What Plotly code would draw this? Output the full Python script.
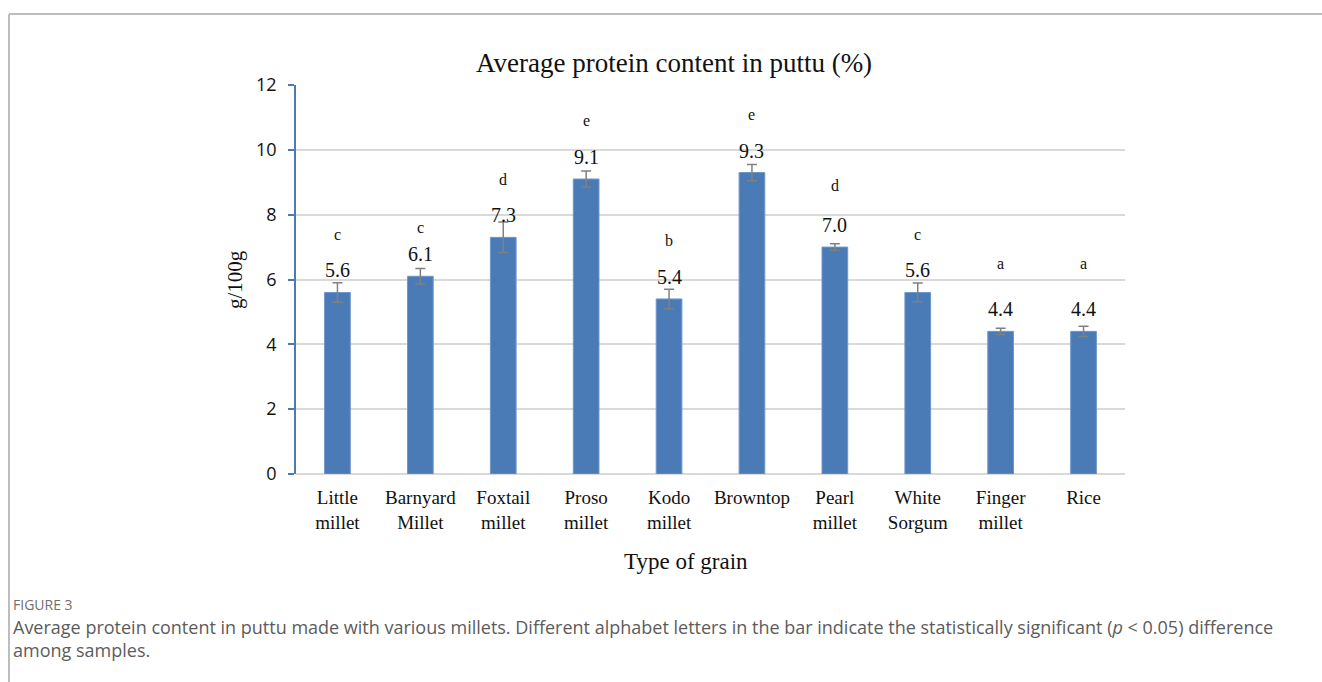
import plotly.graph_objects as go

# Protein content (g/100g) of puttu by grain type
grains = ["Little<br>millet", "Barnyard<br>Millet", "Foxtail<br>millet", "Proso<br>millet",
          "Kodo<br>millet", "Browntop", "Pearl<br>millet", "White<br>Sorgum",
          "Finger<br>millet", "Rice"]
protein = [5.6, 6.1, 7.3, 9.1, 5.4, 9.3, 7.0, 5.6, 4.4, 4.4]
std_err = [0.30, 0.24, 0.47, 0.25, 0.30, 0.25, 0.10, 0.29, 0.10, 0.16]
groups = ["c", "c", "d", "e", "b", "e", "d", "c", "a", "a"]
group_level = [7.4, 7.6, 9.07, 10.9, 7.2, 11.1, 8.9, 7.4, 6.5, 6.5]
y_ticks = [0, 2, 4, 6, 8, 10, 12]

# plot-area geometry in pixels (for paper-coordinate helpers)
W, H = 1322, 682
L, R, T, B = 296, 197, 85, 208
PW, PH = W - L - R, H - T - B


def px(x):
    return (x - L) / PW


def py(y):
    return (H - B - y) / PH


SERIF = "Liberation Serif, Times New Roman, serif"
SANS = "Open Sans, Lato, sans-serif"

fig = go.Figure()
fig.add_trace(go.Bar(
    x=grains, y=protein, width=0.31,
    marker=dict(color="#4A7BB7", line=dict(color="#6F97CC", width=1)),
    error_y=dict(type="data", array=std_err, visible=True,
                 color="#808080", thickness=1.5, width=5),
    hoverinfo="x+y", showlegend=False,
))

annotations = []
for g, v, e in zip(grains, protein, std_err):
    annotations.append(dict(x=g, y=v, text=f"{v:.1f}", showarrow=False,
                            xref="x", yref="y", yanchor="bottom", yshift=9,
                            font=dict(family=SERIF, size=20, color="#111111")))
for g, lab, lv in zip(grains, groups, group_level):
    annotations.append(dict(x=g, y=lv, text=lab, showarrow=False,
                            xref="x", yref="y", yanchor="middle",
                            font=dict(family=SERIF, size=16, color="#111111")))

# chart title and axis titles
annotations += [
    dict(x=px(674), y=py(63), xref="paper", yref="paper", showarrow=False,
         xanchor="center", yanchor="middle",
         text="Average protein content in puttu (%)",
         font=dict(family=SERIF, size=27, color="#111111")),
    dict(x=px(686), y=py(561), xref="paper", yref="paper", showarrow=False,
         xanchor="center", yanchor="middle",
         text="Type of grain", font=dict(family=SERIF, size=23, color="#111111")),
    dict(x=px(235), y=py(280), xref="paper", yref="paper", showarrow=False,
         xanchor="center", yanchor="middle",
         text="g/100g", textangle=-90,
         font=dict(family=SERIF, size=21, color="#111111")),
    # figure caption
    dict(x=px(11), y=py(604), xref="paper", yref="paper", showarrow=False,
         xanchor="left", yanchor="middle", text="FIGURE 3",
         font=dict(family=SANS, size=14, color="#707070")),
    dict(x=px(11), y=py(638), xref="paper", yref="paper", showarrow=False,
         xanchor="left", yanchor="middle", align="left",
         text="Average protein content in puttu made with various millets. Different alphabet letters in the bar indicate the statistically significant (<i>p</i> < 0.05) difference<br>among samples.",
         font=dict(family=SANS, size=18, color="#5c5c5c")),
]

# outer frame lines (top and left)
shapes = [
    dict(type="line", xref="paper", yref="paper", x0=px(9), x1=px(1322),
         y0=py(14), y1=py(14), line=dict(color="#bdbdbd", width=2)),
    dict(type="line", xref="paper", yref="paper", x0=px(9), x1=px(9),
         y0=py(14), y1=py(682), line=dict(color="#bdbdbd", width=2)),
]

fig.update_layout(
    width=W, height=H,
    margin=dict(l=L, r=R, t=T, b=B),
    paper_bgcolor="white", plot_bgcolor="white",
    annotations=annotations, shapes=shapes,
    xaxis=dict(showline=False, showgrid=False, ticks="", ticklabelstandoff=10,
               tickfont=dict(family=SERIF, size=19, color="#111111")),
    yaxis=dict(range=[0, 12], tickvals=y_ticks, showgrid=True, gridcolor="#d9d9d9",
               gridwidth=1.5, zeroline=True, zerolinecolor="#d9d9d9", zerolinewidth=1.5,
               showline=True, linecolor="#4A7BB7", linewidth=1.5,
               ticks="outside", ticklen=6, tickcolor="#4A7BB7", tickwidth=1.5,
               tickfont=dict(family="Open Sans, Lato, sans-serif", size=18, color="#111111"),
               ticklabelstandoff=8),
)

fig.write_html("out.html")
